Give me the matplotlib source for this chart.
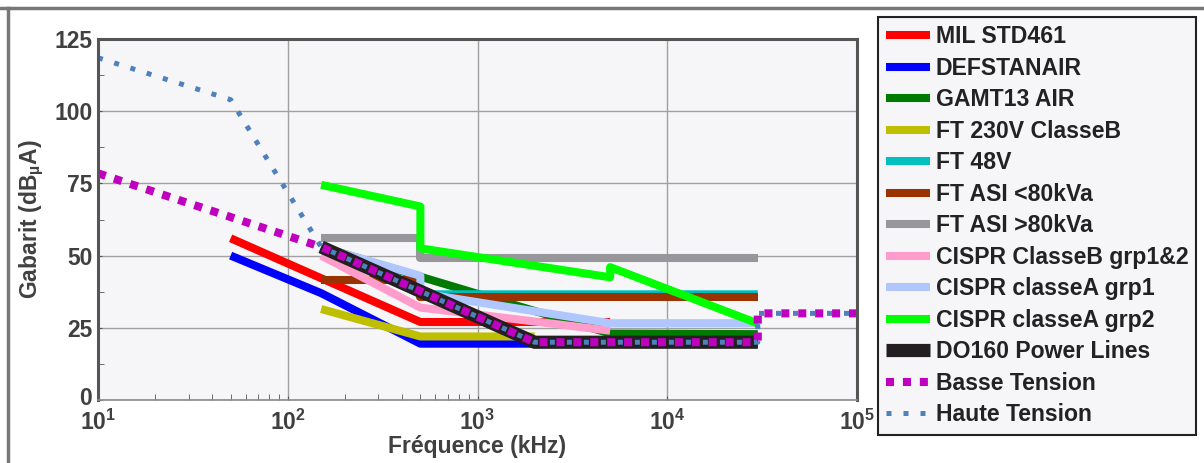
import numpy as np
import matplotlib
matplotlib.use('Agg')
import matplotlib.pyplot as plt
import matplotlib.transforms as mtransforms
from matplotlib.lines import Line2D
from matplotlib.ticker import FixedLocator, NullFormatter

plt.rcParams['font.family'] = ['Liberation Sans', 'DejaVu Sans']
plt.rcParams['font.weight'] = 'bold'
plt.rcParams['axes.labelweight'] = 'bold'
plt.rcParams['mathtext.fontset'] = 'custom'
plt.rcParams['mathtext.rm'] = 'Liberation Sans:bold'
plt.rcParams['mathtext.it'] = 'Liberation Sans:bold'
plt.rcParams['mathtext.bf'] = 'Liberation Sans:bold'
plt.rcParams['mathtext.default'] = 'rm'

# frequencies in kHz, levels in dBuA
mil_f = [50, 500, 5000]
mil_v = [56, 27, 27]
def_f = [50, 150, 500, 30000]
def_v = [50, 37, 19.5, 19.5]
gamt_f = [150, 5000, 30000]
gamt_v = [53, 23, 22.8]
ft230_f = [150, 500, 2000]
ft230_v = [31.5, 22, 22]
ft48_f = [150, 500, 30000]
ft48_v = [53, 36.6, 36.6]
asi_lo_f = [150, 500, 500, 30000]
asi_lo_v = [41.5, 41.5, 35.8, 35.8]
asi_hi_f = [150, 500, 500, 30000]
asi_hi_v = [56, 56, 49, 49]
cisprB_f = [150, 500, 5000]
cisprB_v = [50, 32, 24]
cisprA1_f = [150, 500, 500, 5000, 30000]
cisprA1_v = [53, 43, 37, 26.6, 26.6]
cisprA2_f = [150, 500, 500, 5000, 5000, 30000]
cisprA2_v = [74.5, 67, 52.5, 42.5, 46, 26.5]
do160_f = [150, 2000, 30000]
do160_v = [53, 20, 20]
bt_f = [10, 150, 2000, 30000, 30000, 100000]
bt_v = [78.5, 53, 20, 20, 30, 30]
ht_f = [10, 50, 150, 2000, 30000, 30000, 100000]
ht_v = [118.5, 104, 53, 20, 20, 30, 30]

names = ['MIL STD461', 'DEFSTANAIR', 'GAMT13 AIR', 'FT 230V ClasseB', 'FT 48V',
         'FT ASI <80kVa', 'FT ASI >80kVa', 'CISPR ClasseB grp1&2', 'CISPR classeA grp1',
         'CISPR classeA grp2', 'DO160 Power Lines']
series = [(mil_f, mil_v), (def_f, def_v), (gamt_f, gamt_v), (ft230_f, ft230_v), (ft48_f, ft48_v),
          (asi_lo_f, asi_lo_v), (asi_hi_f, asi_hi_v), (cisprB_f, cisprB_v), (cisprA1_f, cisprA1_v),
          (cisprA2_f, cisprA2_v), (do160_f, do160_v)]
colors = ['#ff0000', '#0000ff', '#007a00', '#bfbf00', '#00bfbf', '#993300', '#97979b',
          '#ff9ccb', '#b0c6ff', '#00ff00', '#231f20']

fig = plt.figure(figsize=(12.04, 4.63), dpi=100)
ax = fig.add_axes([98/1204, 63/463, 759/1204, 361/463])
ax.set_facecolor('#f6f6f8')

for (f, v), c, n in zip(series, colors, names):
    lw = 9.5 if n.startswith('DO160') else 5.8
    ax.plot(f, v, color=c, lw=lw, label=n, solid_capstyle='butt')

ax.plot(bt_f, bt_v, color='#bf00bf', lw=5.8, ls=(0, (1, 1.1)), label='Basse Tension')
ax.plot(ht_f, ht_v, color='#4f81bd', lw=3.6, ls=(0, (1, 2.4)), label='Haute Tension')

ax.set_xscale('log')
ax.set_xlim(10, 1e5)
ax.set_ylim(0, 125)
ax.set_xticks([10, 100, 1000, 10000, 100000])
ax.set_xticklabels([r'$10^{1}$', r'$10^{2}$', r'$10^{3}$', r'$10^{4}$', r'$10^{5}$'])
ax.xaxis.set_minor_locator(FixedLocator([k * d for d in (10, 100) for k in range(2, 10)]))
ax.xaxis.set_minor_formatter(NullFormatter())
ax.set_yticks([0, 25, 50, 75, 100, 125])
ax.yaxis.set_minor_locator(FixedLocator(np.arange(12.5, 125, 25)))
ax.grid(True, which='major', color='#a0a0a0', lw=1.0)
ax.tick_params(which='both', direction='in', colors='#555555', labelcolor='#404040', labelsize=16.5)
ax.tick_params(which='major', length=3)
ax.tick_params(which='minor', length=4)
ax.tick_params(axis='x', pad=7)
ax.tick_params(axis='y', pad=4)

# nudge the "0" label up a little so it clears the 10^1 label
zero_lbl = ax.yaxis.get_major_ticks()[0].label1
zero_lbl.set_transform(zero_lbl.get_transform() +
                       mtransforms.ScaledTranslation(-1/100, 4/100, fig.dpi_scale_trans))

for s in ['left', 'top', 'right']:
    ax.spines[s].set_color('#555555')
    ax.spines[s].set_linewidth(2.2)
ax.spines['bottom'].set_color('#8a8a8a')
ax.spines['bottom'].set_linewidth(1.2)

ax.set_xlabel('Fréquence (kHz)', fontsize=16.5, color='#404040', labelpad=0)
ax.set_ylabel('Gabarit (dB$_{µ}$A)', fontsize=16.5, color='#404040', labelpad=6)

leg = fig.legend(loc='upper left', bbox_to_anchor=(878/1204, 1 - 17/463), borderaxespad=0,
                 fontsize=16.6, handlelength=1.9, handletextpad=0.25, labelspacing=0.37,
                 borderpad=0.35, fancybox=False, framealpha=1, facecolor='#f6f6f8',
                 edgecolor='#222222')
leg.get_frame().set_linewidth(1.5)
for t in leg.get_texts():
    t.set_color('#222222')

# outer frame of the figure
fig.add_artist(Line2D([0, 1], [1 - 8/463, 1 - 8/463], transform=fig.transFigure, color='#777777', lw=2.5))
fig.add_artist(Line2D([8/1204, 8/1204], [0, 1 - 8/463], transform=fig.transFigure, color='#777777', lw=2.5))

fig.savefig('out.png', dpi=100)
